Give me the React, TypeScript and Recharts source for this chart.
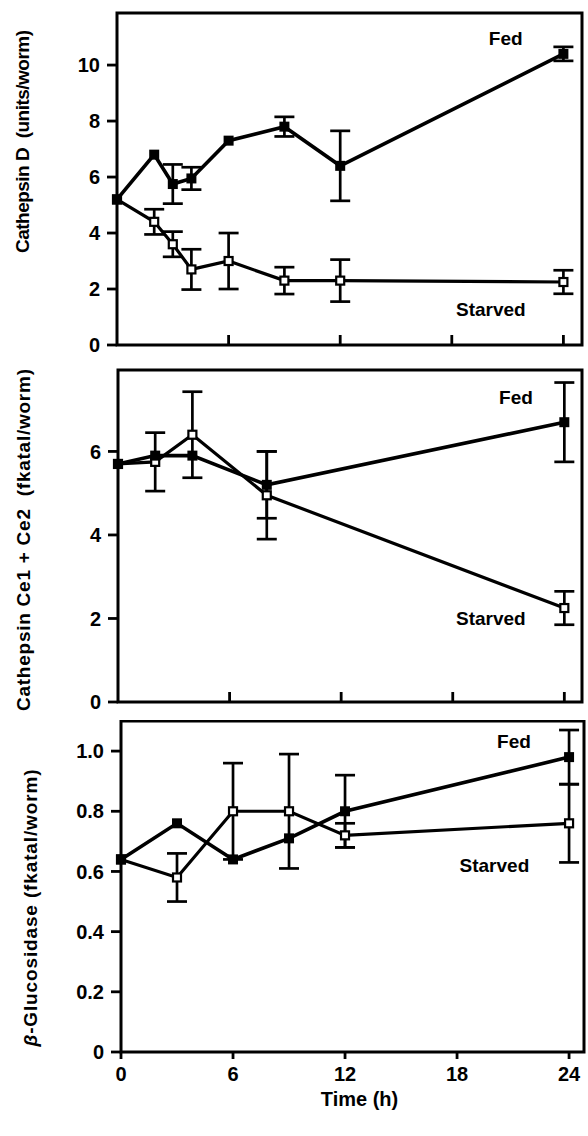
import React from 'react'
import { LineChart, Line, XAxis, YAxis, ErrorBar, ReferenceArea, ReferenceDot } from 'recharts'

// Cathepsin D (units/worm)
const hoursD = [0, 2, 3, 4, 6, 9, 12, 24]
const fedD = [5.2, 6.8, 5.75, 5.95, 7.3, 7.8, 6.4, 10.4]
const fedDErr = [0, 0, 0.7, 0.4, 0, 0.35, 1.25, 0.25]
const starvedD = [5.2, 4.4, 3.6, 2.7, 3.0, 2.3, 2.3, 2.25]
const starvedDErr = [0, 0.45, 0.45, 0.72, 1.0, 0.48, 0.75, 0.42]

// Cathepsin Ce1 + Ce2 (fkatal/worm)
const hoursCe = [0, 2, 4, 8, 24]
const fedCe = [5.7, 5.9, 5.9, 5.2, 6.7]
const fedCeErr = [0, 0, 0, 0.8, 0.95]
const starvedCe = [5.7, 5.75, 6.4, 4.95, 2.25]
const starvedCeErr = [0, 0.7, 1.03, 1.05, 0.4]

// beta-Glucosidase (fkatal/worm)
const hoursG = [0, 3, 6, 9, 12, 24]
const fedG = [0.64, 0.76, 0.64, 0.71, 0.8, 0.98]
const fedGErr = [0, 0, 0, 0, 0.12, 0.09]
const starvedG = [0.64, 0.58, 0.8, 0.8, 0.72, 0.76]
const starvedGErr = [0, 0.08, 0.16, 0.19, 0.04, 0.13]

const timeTicks = [0, 6, 12, 18, 24]
const innerTimeTicks = [6, 12, 18, 24]
const ticksD = [0, 2, 4, 6, 8, 10]
const ticksCe = [0, 2, 4, 6]
const ticksG = [0, 0.2, 0.4, 0.6, 0.8, 1.0]

const font = '"Liberation Sans", Arial, Helvetica, sans-serif'

const table = (hours: number[], fed: number[], fedErr: number[], starved: number[], starvedErr: number[]) =>
  hours.map((h, i) => ({ h, fed: fed[i], fedErr: fedErr[i], starved: starved[i], starvedErr: starvedErr[i] }))

const dataD = table(hoursD, fedD, fedDErr, starvedD, starvedDErr)
const dataCe = table(hoursCe, fedCe, fedCeErr, starvedCe, starvedCeErr)
const dataG = table(hoursG, fedG, fedGErr, starvedG, starvedGErr)

const FedDot = (p: any) => (
  <rect key={`f-${p.index}`} x={p.cx - 5} y={p.cy - 5} width={10} height={10} fill="#000" />
)
const StarvedDot = (p: any) => (
  <rect key={`s-${p.index}`} x={p.cx - 4} y={p.cy - 4} width={8} height={8} fill="#fff" stroke="#000" strokeWidth={2.2} />
)
const NoTick = () => <g />

const yTitle = (content: React.ReactNode, cx: number, dy: number, len: number) => (props: any) => {
  const vb = props.viewBox || {}
  const cy = (vb.y || 0) + (vb.height || 0) / 2 + dy
  return (
    <text
      x={cx}
      y={cy}
      transform={`rotate(-90 ${cx} ${cy})`}
      textAnchor="middle"
      dominantBaseline="central"
      fontSize={19}
      fontWeight="bold"
      fontFamily={font}
      fill="#000"
      textLength={len}
      lengthAdjust="spacing"
      style={{ whiteSpace: 'pre' }}
    >
      {content}
    </text>
  )
}

interface PanelProps {
  top: number
  height: number
  marginTop: number
  axisHeight: number
  yWidth: number
  rightMargin: number
  xMax: number
  yMax: number
  yTicks: number[]
  data: any[]
  title: (props: any) => React.ReactNode
  fedAt: [number, number]
  starvedAt: [number, number]
  bottom?: boolean
}

function Panel(p: PanelProps) {
  const tickStyle = { fill: '#000', fontSize: 20, fontWeight: 'bold', fontFamily: font }
  const noteStyle = { position: 'center' as const, fill: '#000', fontSize: 19, fontWeight: 'bold', fontFamily: font }
  return (
    <div style={{ position: 'absolute', left: 0, top: p.top }}>
      <LineChart
        width={588}
        height={p.height}
        data={p.data}
        margin={{ top: p.marginTop, right: p.rightMargin, bottom: 0, left: 0 }}
      >
        <XAxis
          dataKey="h"
          type="number"
          domain={[0, p.xMax]}
          ticks={p.bottom ? timeTicks : innerTimeTicks}
          height={p.axisHeight}
          axisLine={false}
          tickLine={{ stroke: '#000', strokeWidth: 2.8 }}
          tickSize={p.bottom ? 7 : -10}
          tickMargin={8}
          tick={p.bottom ? tickStyle : NoTick}
          label={
            p.bottom
              ? { value: 'Time (h)', position: 'insideBottom', offset: 30, dx: 7, fill: '#000', fontSize: 20, fontWeight: 'bold', fontFamily: font }
              : undefined
          }
        />
        <YAxis
          type="number"
          domain={[0, p.yMax]}
          ticks={p.yTicks}
          width={p.yWidth}
          axisLine={false}
          tickLine={{ stroke: '#000', strokeWidth: 2.8 }}
          tickSize={10}
          tickMargin={7}
          tick={tickStyle}
          tickFormatter={(v: number) => (v === 0 ? '0' : p.yMax < 2 ? v.toFixed(1) : String(v))}
          label={p.title}
        />
        <ReferenceArea
          x1={0}
          x2={p.xMax}
          y1={0}
          y2={p.yMax}
          fill="none"
          stroke="#000"
          strokeWidth={3}
          ifOverflow="visible"
        />
        <Line
          dataKey="starved"
          type="linear"
          stroke="#000"
          strokeWidth={3.2}
          dot={StarvedDot}
          activeDot={false}
          isAnimationActive={false}
        >
          <ErrorBar dataKey="starvedErr" direction="y" width={10} stroke="#000" strokeWidth={2.7} />
        </Line>
        <Line
          dataKey="fed"
          type="linear"
          stroke="#000"
          strokeWidth={3.6}
          dot={FedDot}
          activeDot={false}
          isAnimationActive={false}
        >
          <ErrorBar dataKey="fedErr" direction="y" width={10} stroke="#000" strokeWidth={2.7} />
        </Line>
        <ReferenceDot
          x={p.fedAt[0]}
          y={p.fedAt[1]}
          r={1}
          fill="none"
          stroke="none"
          label={{ value: 'Fed', ...noteStyle }}
        />
        <ReferenceDot
          x={p.starvedAt[0]}
          y={p.starvedAt[1]}
          r={1}
          fill="none"
          stroke="none"
          label={{ value: 'Starved', ...noteStyle }}
        />
      </LineChart>
    </div>
  )
}

export default function App() {
  return (
    <div style={{ position: 'absolute', left: 0, top: 0, width: 588, height: 1136, background: '#fff', fontFamily: font }}>
      <Panel
        top={0}
        height={360}
        marginTop={13}
        axisHeight={15}
        yWidth={117}
        rightMargin={6}
        xMax={25}
        yMax={11.86}
        yTicks={ticksD}
        data={dataD}
        title={yTitle('Cathepsin D  (units/worm)', 22.5, -37.5, 223)}
        fedAt={[20.9, 10.96]}
        starvedAt={[20.1, 1.27]}
      />
      <Panel
        top={360}
        height={360}
        marginTop={10}
        axisHeight={18}
        yWidth={118}
        rightMargin={6}
        xMax={24.95}
        yMax={7.95}
        yTicks={ticksCe}
        data={dataCe}
        title={yTitle('Cathepsin Ce1 + Ce2  (fkatal/worm)', 23.5, 4, 342)}
        fedAt={[21.4, 7.3]}
        starvedAt={[20.05, 2.0]}
      />
      <Panel
        top={720}
        height={416}
        marginTop={1}
        axisHeight={84}
        yWidth={121}
        rightMargin={4}
        xMax={24.8}
        yMax={1.1}
        yTicks={ticksG}
        data={dataG}
        title={yTitle(
          <>
            <tspan fontStyle="italic">β</tspan>-Glucosidase (fkatal/worm)
          </>,
          30,
          21.5,
          277
        )}
        fedAt={[21.05, 1.033]}
        starvedAt={[20.0, 0.62]}
        bottom
      />
    </div>
  )
}
